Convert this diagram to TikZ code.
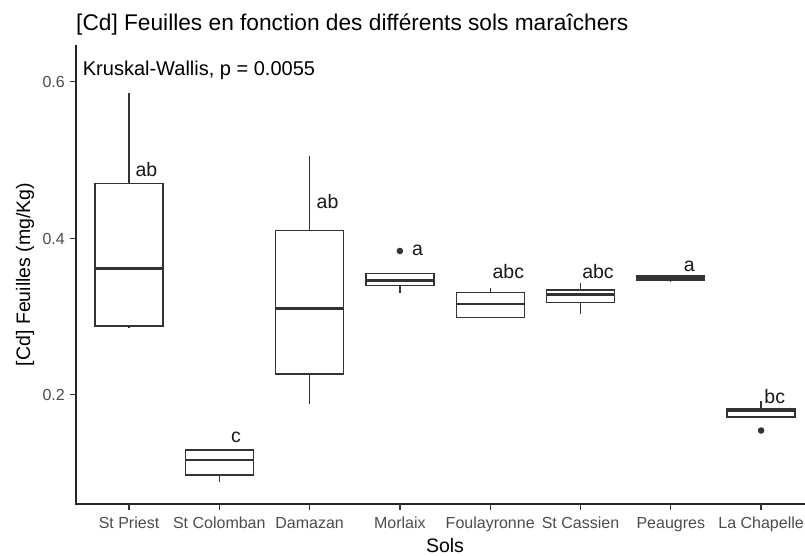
\documentclass[tikz,border=0pt]{standalone}
\usepackage{fontspec}
\setmainfont{Liberation Sans}
\newcommand\bxp[6]{%
  \draw[whisk] (#1,#2) -- (#1,#3);
  \draw[whisk] (#1,#5) -- (#1,#6);
  \draw[boxline] ({#1-34},#3) rectangle ({#1+34},#5);
  \draw[medline] ({#1-34},#4) -- ({#1+34},#4);
}
\definecolor{axtext}{HTML}{4D4D4D}
\definecolor{g20}{HTML}{333333}
\tikzset{
  whisk/.style={draw=g20, line width=1.3pt},
  boxline/.style={draw=g20, line width=1.3pt},
  medline/.style={draw=g20, line width=2.8pt},
  axisline/.style={draw=black!85, line width=1.8pt},
  tickline/.style={draw=g20, line width=1.3pt},
  ticklab/.style={inner sep=0pt, text=axtext, font=\fontsize{16}{16}\selectfont},
  axtitle/.style={inner sep=0pt, text=black, font=\fontsize{19.5}{19.5}\selectfont},
  annot/.style={inner sep=0pt, anchor=base, text=black!90, font=\fontsize{19.5}{19.5}\selectfont},
  outl/.style={fill=g20, draw=none},
}
\begin{document}
\begin{tikzpicture}[x=1pt,y=-1pt]
\useasboundingbox[fill=white] (0,0) rectangle (805,556);
% title
\node[inner sep=0pt, anchor=base west, font=\fontsize{22.7}{22.7}\selectfont] (title) at (76,31) {[Cd] Feuilles en fonction des différents sols maraîchers};
% axes
\draw[axisline] (76,45) -- (76,504) -- (805,504);
% y ticks
\foreach \v/\yy in {0.2/394.3, 0.4/238.3, 0.6/81.7} {
  \draw[tickline] (70,\yy) -- (76,\yy);
  \node[ticklab, anchor=base east] (yt\v) at (65,{\yy+5.7}) {\v};
}
% x ticks
\foreach \i/\cx/\lab in {1/129/St Priest, 2/219.3/St Colomban, 3/309.6/Damazan, 4/399.9/Morlaix, 5/490.2/Foulayronne, 6/580.5/St Cassien, 7/670.8/Peaugres, 8/761.1/La Chapelle} {
  \draw[tickline] (\cx,504) -- (\cx,510);
  \node[ticklab, anchor=base] (xt\i) at (\cx,528.3) {\lab};
}
% axis titles
\node[axtitle, anchor=base] (xtitle) at (445,552.3) {Sols};
\node[axtitle, anchor=base, rotate=90] (ytitle) at (30,274.5) {[Cd] Feuilles (mg/Kg)};
% boxplots
\bxp{129}{93.3}{183.3}{268.7}{326}{328.3}
\bxp{219.3}{450}{450}{460}{475}{481.7}
\bxp{309.6}{156}{230.7}{308.7}{374}{404}
\bxp{399.9}{273.3}{273.3}{280.7}{285.7}{292.7}
\bxp{490.2}{288.3}{292.7}{304}{317.7}{317.7}
\bxp{580.5}{283.3}{290}{294.3}{302.3}{314}
\bxp{670.8}{276}{276}{278.3}{280.7}{282.3}
\bxp{761.1}{400.7}{409}{410.5}{417}{417}
% outliers
\fill[outl] (399.9,251) circle (3.3);
\fill[outl] (761.1,430.5) circle (3.3);
% annotations
\node[inner sep=0pt, anchor=base west, font=\fontsize{20}{20}\selectfont] (kw) at (82.7,76) {Kruskal-Wallis, p = 0.0055};
\node[annot] (l1) at (146.5,176.7) {ab};
\node[annot] (l2) at (236,442.7) {c};
\node[annot] (l3) at (327.5,208.3) {ab};
\node[annot] (l4) at (417.5,255) {a};
\node[annot] (l5) at (508.3,278.3) {abc};
\node[annot] (l6) at (598,278.3) {abc};
\node[annot] (l7) at (689.3,271.7) {a};
\node[annot] (l8) at (774.7,403.5) {bc};
\end{tikzpicture}
\end{document}
